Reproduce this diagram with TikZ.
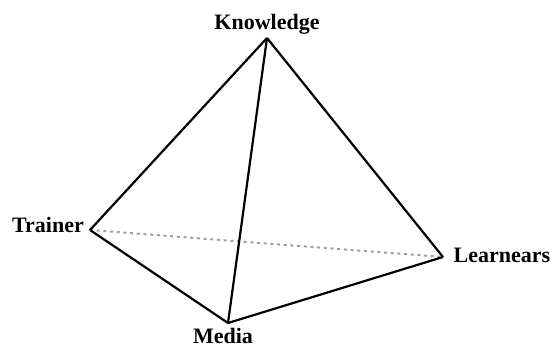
\documentclass[tikz,border=0pt]{standalone}
\usepackage{fontspec}
\setmainfont{Liberation Serif}
\usepackage{tikz}
\usetikzlibrary{positioning}

\begin{document}
\begin{tikzpicture}[
  x=1pt, y=-1pt,
  edge/.style={draw, line width=2.2pt, line join=miter},
  hidden/.style={draw=gray!75, line width=2pt, dash pattern=on 3pt off 3.7pt},
  lbl/.style={font=\fontsize{22}{26}\selectfont\bfseries, inner sep=0pt, anchor=base},
  every node/.style={text=black}
]
  \useasboundingbox (0,0) rectangle (554,348);
  % corners of the tetrahedron
  \coordinate (k) at (267,38);
  \coordinate (t) at (90,230);
  \coordinate (l) at (443,257);
  \coordinate (m) at (228,323);
  % labels
  \node[lbl] (knowledge) at (267,29)  {Knowledge};
  \node[lbl] (trainer)   at (48,232)  {Trainer};
  \node[lbl] (learners)  at (502,262) {Learnears};
  \node[lbl] (media)     at (223,343) {Media};
  % edges
  \draw[hidden] (t) -- (l);
  \draw[edge] (k) -- (t);
  \draw[edge] (k) -- (l);
  \draw[edge] (k) -- (m);
  \draw[edge] (t) -- (m);
  \draw[edge] (m) -- (l);
\end{tikzpicture}
\end{document}
